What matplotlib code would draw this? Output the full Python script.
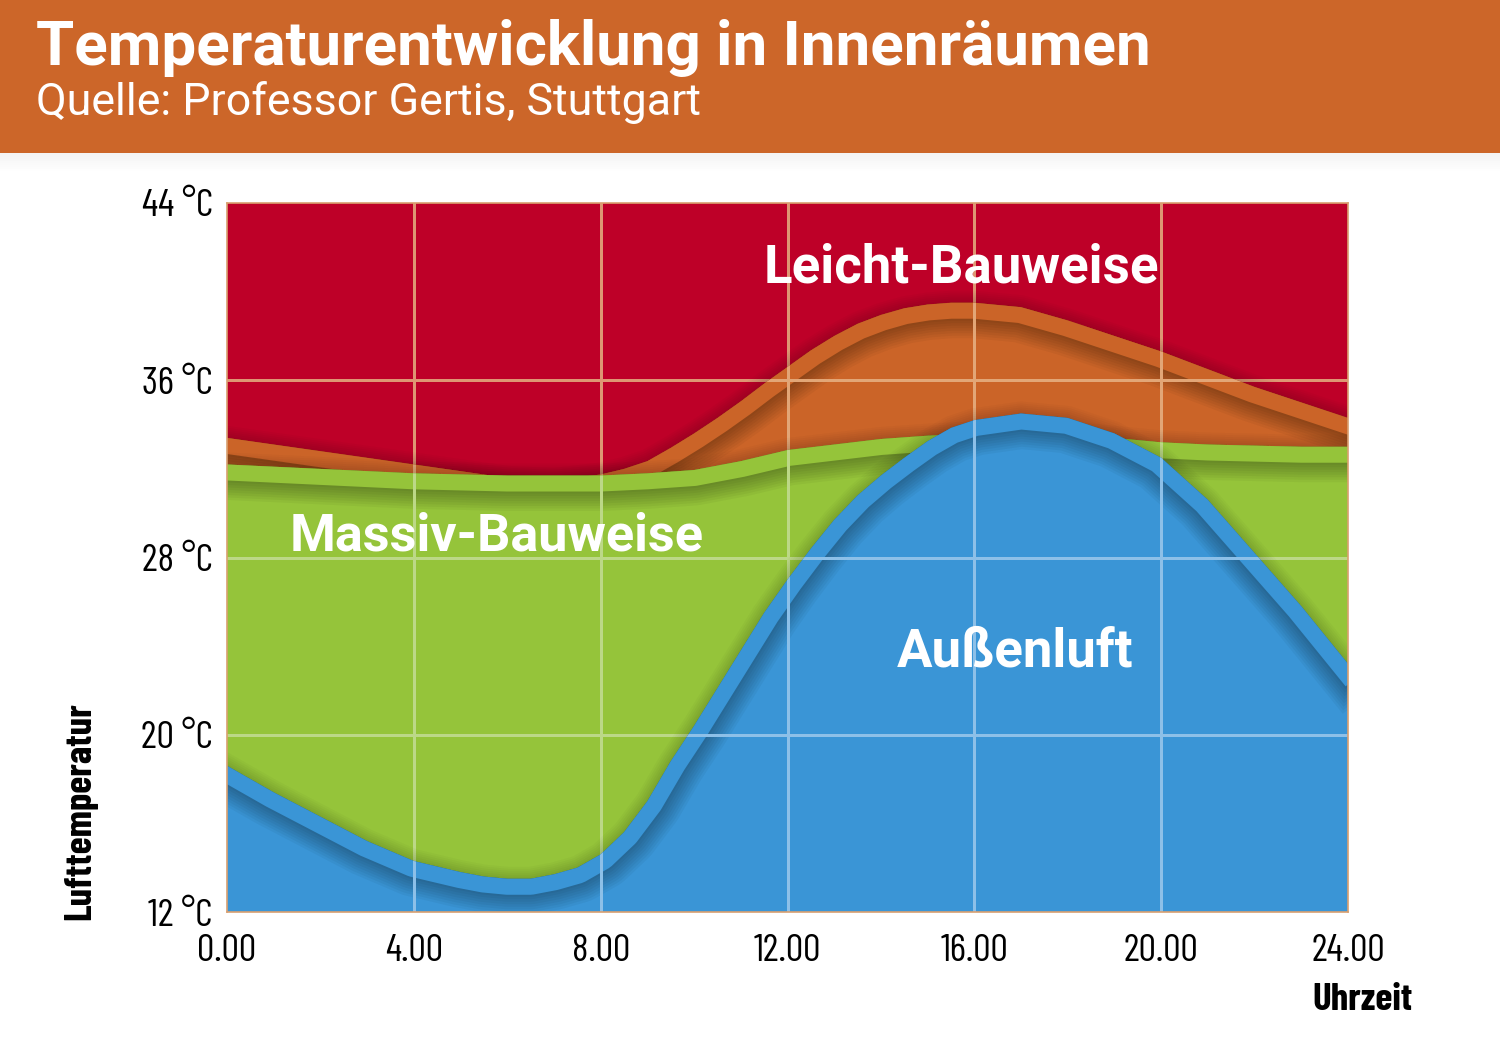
import matplotlib
matplotlib.use("Agg")
import matplotlib.pyplot as plt
from matplotlib.patches import Polygon, Rectangle

# values (hour of day -> air temperature in °C)
leicht_h = [0, 1, 2, 3, 4, 5, 6, 7, 8, 8.5, 9, 9.5, 10, 10.5, 11, 11.5, 12, 12.5,
            13, 13.5, 14, 14.5, 15, 15.5, 16, 17, 18, 19, 20, 21, 22, 23, 24]
leicht = [33.4, 33.1, 32.8, 32.5, 32.2, 31.9, 31.6, 31.5, 31.75, 32.0, 32.35, 32.95,
          33.6, 34.3, 35.05, 35.85, 36.6, 37.35, 38.0, 38.55, 38.95, 39.25, 39.42, 39.5,
          39.5, 39.3, 38.7, 38.0, 37.3, 36.5, 35.7, 35.0, 34.3]

massiv_h = list(range(25))
massiv = [32.2, 32.1, 32.0, 31.9, 31.8, 31.75, 31.7, 31.7, 31.7, 31.8, 31.95, 32.35,
          32.85, 33.1, 33.35, 33.5, 33.6, 33.65, 33.6, 33.4, 33.2, 33.1, 33.05, 33.0, 33.0]

aussen_h = [0, 1, 2, 3, 4, 5, 5.5, 6, 6.5, 7, 7.5, 8, 8.5, 9, 9.5, 10, 10.5, 11,
            11.5, 12, 12.5, 13, 13.5, 14, 14.5, 15, 15.5, 16, 17, 18, 19, 20, 21,
            22, 23, 24]
aussen = [18.6, 17.4, 16.3, 15.2, 14.3, 13.8, 13.6, 13.5, 13.5, 13.7, 14.0, 14.6,
          15.6, 17.0, 18.8, 20.4, 22.1, 23.8, 25.5, 27.0, 28.4, 29.7, 30.8, 31.7,
          32.5, 33.25, 33.85, 34.2, 34.5, 34.3, 33.6, 32.5, 30.6, 28.2, 25.8, 23.2]

yticks = [12, 20, 28, 36, 44]
ytick_labels = ["12 °C", "20 °C", "28 °C", "36 °C", "44 °C"]
xticks = [0, 4, 8, 12, 16, 20, 24]
xtick_labels = ["0.00", "4.00", "8.00", "12.00", "16.00", "20.00", "24.00"]

RED = "#BE0028"
ORANGE = "#CB6428"
GREEN = "#95C43A"
BLUE = "#3A95D6"
HEADER = "#CC6629"

NARROW = ["Barlow Condensed", "DejaVu Sans"]
PX = 0.72  # points per pixel at dpi 100
BAND = 16  # band thickness in px


def draw_grid(ax, color, z, clip=None):
    lines = []
    for x in xticks[1:-1]:
        lines += ax.plot([x, x], [12, 44], color=color, lw=3 * PX, zorder=z)
    for y in yticks[1:-1]:
        lines += ax.plot([0, 24], [y, y], color=color, lw=3 * PX, zorder=z)
    if clip is not None:
        for ln in lines:
            ln.set_clip_path(clip)


def draw_layer(ax, xs, vals, color, grid_color, z):
    # soft shadow falling on the layer behind
    for k in range(6):
        ax.plot(xs, vals, color="black", alpha=0.025, lw=2 * (2 + 2 * k) * PX,
                solid_joinstyle="round", zorder=z - 0.5)
    verts = [(0, 0)] + list(zip(xs, vals)) + [(24, 0)]
    patch = Polygon(verts, closed=True, facecolor=color, edgecolor="none", zorder=z)
    ax.add_patch(patch)
    # shadow under the band
    for k in range(8):
        ln, = ax.plot(xs, vals, color="black", alpha=0.04,
                      lw=2 * (BAND + 2 + 2.5 * k) * PX, solid_joinstyle="round",
                      zorder=z + 0.1)
        ln.set_clip_path(patch)
    ln, = ax.plot(xs, vals, color=color, lw=2 * BAND * PX,
                  solid_joinstyle="round", zorder=z + 0.2)
    ln.set_clip_path(patch)
    draw_grid(ax, grid_color, z + 0.3, clip=patch)


fig = plt.figure(figsize=(15, 10.39), dpi=100)

# header band with its shadow
for k in range(10):
    fig.patches.append(Rectangle((0, 1 - (153 + 2 * k) / 1039), 1, 2 / 1039,
                                 transform=fig.transFigure, color="black",
                                 alpha=0.05 * (10 - k) / 10, lw=0))
fig.patches.append(Rectangle((0, 1 - 153 / 1039), 1, 153 / 1039,
                             transform=fig.transFigure, color=HEADER, lw=0))
fig.text(36 / 1500, 1 - 65 / 1039, "Temperaturentwicklung in Innenräumen",
         color="white", fontsize=44.6, fontweight="bold", family="Roboto",
         va="baseline", ha="left")
fig.text(36 / 1500, 1 - 115 / 1039, "Quelle: Professor Gertis, Stuttgart",
         color="white", fontsize=32.2, fontweight="normal", family="Roboto",
         va="baseline", ha="left")

ax = fig.add_axes([227 / 1500, 127 / 1039, 1121 / 1500, 709 / 1039])
ax.set_facecolor(RED)
ax.set_xlim(0, 24)
ax.set_ylim(12, 44)
draw_grid(ax, "#DE9673", 0.5)

draw_layer(ax, leicht_h, leicht, ORANGE, "#E2A677", 2)
draw_layer(ax, massiv_h, massiv, GREEN, "#BCD887", 3)
draw_layer(ax, aussen_h, aussen, BLUE, "#8DC0E8", 4)

for s in ax.spines.values():
    s.set_color("#D9A070")
    s.set_linewidth(1.2)
    s.set_zorder(10)

ax.set_xticks(xticks)
ax.set_xticklabels(xtick_labels, family=NARROW, fontsize=28)
ax.set_yticks(yticks)
ax.set_yticklabels(ytick_labels, family=NARROW, fontsize=28)
ax.tick_params(axis="both", length=0)
ax.tick_params(axis="x", pad=16)
ax.tick_params(axis="y", pad=10)
for lbl in ax.get_yticklabels():
    lbl.set_verticalalignment("center_baseline")

ax.text(11.48, 40.4, "Leicht-Bauweise", color="white", fontsize=38,
        fontweight="bold", family="Roboto", zorder=20)
ax.text(1.35, 28.3, "Massiv-Bauweise", color="white", fontsize=37.6,
        fontweight="bold", family="Roboto", zorder=20)
ax.text(14.35, 23.1, "Außenluft", color="white", fontsize=38,
        fontweight="bold", family="Roboto", zorder=20)

fig.text(1362 / 1500, 1 - 1010 / 1039, "Uhrzeit", family=NARROW, fontsize=28,
         fontweight="bold", ha="center", va="baseline")
fig.text(97 / 1500, 1 - 920 / 1039, "Lufttemperatur", family=NARROW,
         fontsize=28, fontweight="bold", rotation=90, ha="right", va="bottom")

fig.savefig("out.png", dpi=100)
